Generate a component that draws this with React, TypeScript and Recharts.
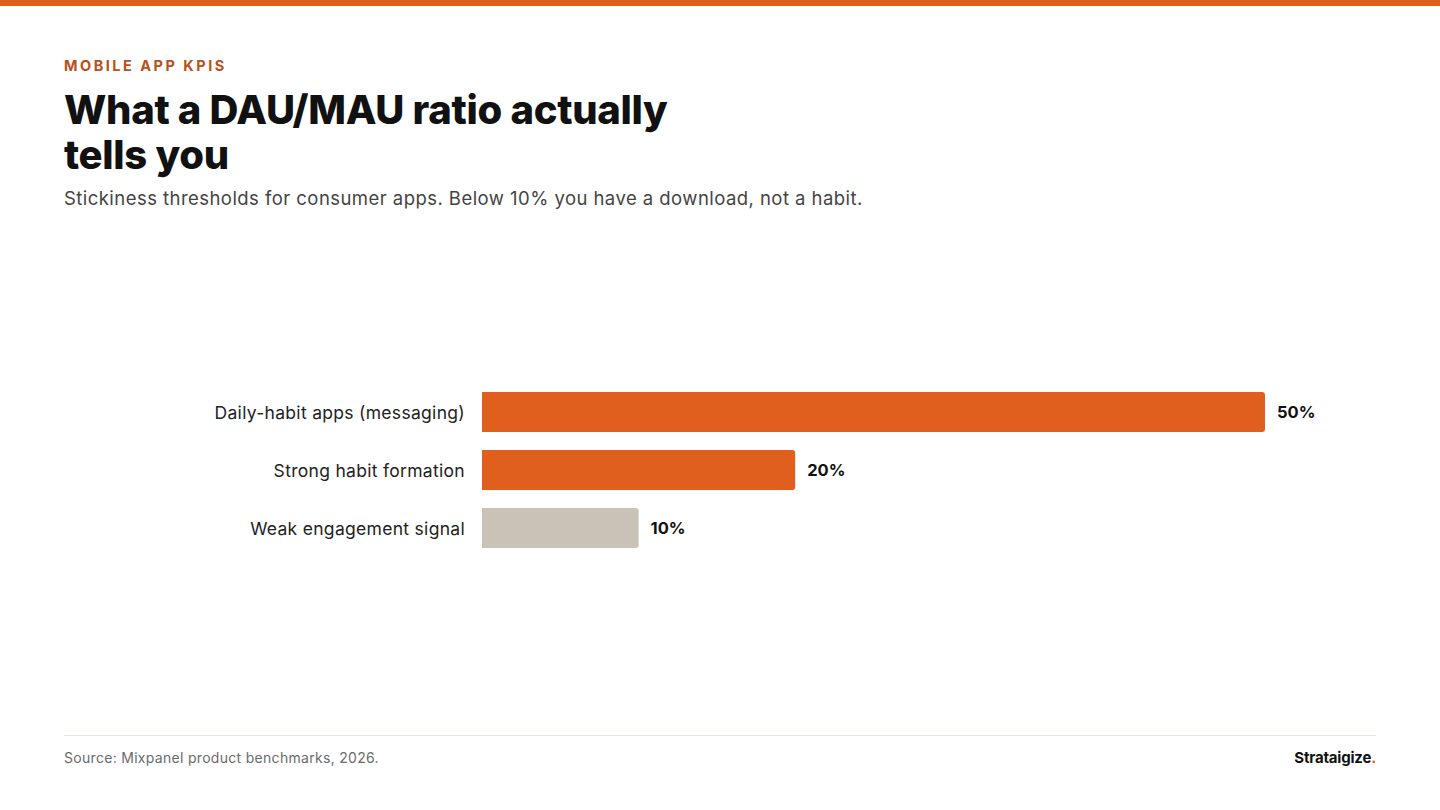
import { BarChart, Bar, XAxis, YAxis, Cell, LabelList } from 'recharts';

const categories = ['Daily-habit apps (messaging)', 'Strong habit formation', 'Weak engagement signal'];
const ratios = [50, 20, 10];
const highlight = [true, true, false];

const ORANGE = '#E05F1E';
const MUTED = '#C9C2B6';
const FONT = 'Inter, "Noto Sans", Lato, sans-serif';

const data = categories.map((name, i) => ({ name, value: ratios[i], hot: highlight[i] }));

if (typeof document !== 'undefined') {
  document.body.style.margin = '0';
}

export default function App() {
  return (
    <div
      style={{
        position: 'relative',
        width: 1440,
        height: 810,
        background: '#fff',
        fontFamily: FONT,
        overflow: 'hidden',
      }}
    >
      <div style={{ position: 'absolute', left: 0, top: 0, width: 1440, height: 6, background: ORANGE }} />

      <div
        style={{
          position: 'absolute',
          left: 64,
          top: 57,
          fontSize: 14.5,
          fontWeight: 700,
          letterSpacing: 2.5,
          color: '#B8501A',
        }}
      >
        MOBILE APP KPIS
      </div>

      <div
        style={{
          position: 'absolute',
          left: 64,
          top: 87,
          width: 640,
          fontSize: 40,
          fontWeight: 800,
          lineHeight: '45px',
          letterSpacing: -0.3,
          color: '#111',
        }}
      >
        What a DAU/MAU ratio actually tells you
      </div>

      <div
        style={{ position: 'absolute', left: 64, top: 187, fontSize: 18.5, letterSpacing: 0.45, color: '#444' }}
      >
        Stickiness thresholds for consumer apps. Below 10% you have a download, not a habit.
      </div>

      <div style={{ position: 'absolute', left: 64, top: 383 }}>
        <BarChart
          width={1312}
          height={174}
          data={data}
          layout="vertical"
          margin={{ top: 0, right: 111, bottom: 0, left: 0 }}
          barSize={40}
        >
          <XAxis type="number" domain={[0, 50]} hide />
          <YAxis
            type="category"
            dataKey="name"
            width={418}
            axisLine={false}
            tickLine={false}
            tickMargin={11}
            tick={{ fill: '#222', fontSize: 17.5, letterSpacing: 0.3, fontFamily: FONT, dy: 1 }}
          />
          <Bar dataKey="value" radius={[0, 3, 3, 0]} isAnimationActive={false}>
            {data.map((d) => (
              <Cell key={d.name} fill={d.hot ? ORANGE : MUTED} />
            ))}
            <LabelList
              dataKey="value"
              position="right"
              offset={12}
              formatter={(v: number) => `${v}%`}
              style={{ fill: '#111', fontSize: 16.5, fontWeight: 700, fontFamily: FONT }}
            />
          </Bar>
        </BarChart>
      </div>

      <div style={{ position: 'absolute', left: 64, top: 735, width: 1312, height: 1, background: '#E6E6DC' }} />

      <div
        style={{ position: 'absolute', left: 64, top: 749, fontSize: 14, letterSpacing: 0.3, color: '#6B6B6B' }}
      >
        Source: Mixpanel product benchmarks, 2026.
      </div>

      <div
        style={{
          position: 'absolute',
          right: 64,
          top: 748,
          fontSize: 15,
          fontWeight: 700,
          color: '#111',
          letterSpacing: -0.2,
        }}
      >
        Strataigize<span style={{ color: ORANGE }}>.</span>
      </div>
    </div>
  );
}
